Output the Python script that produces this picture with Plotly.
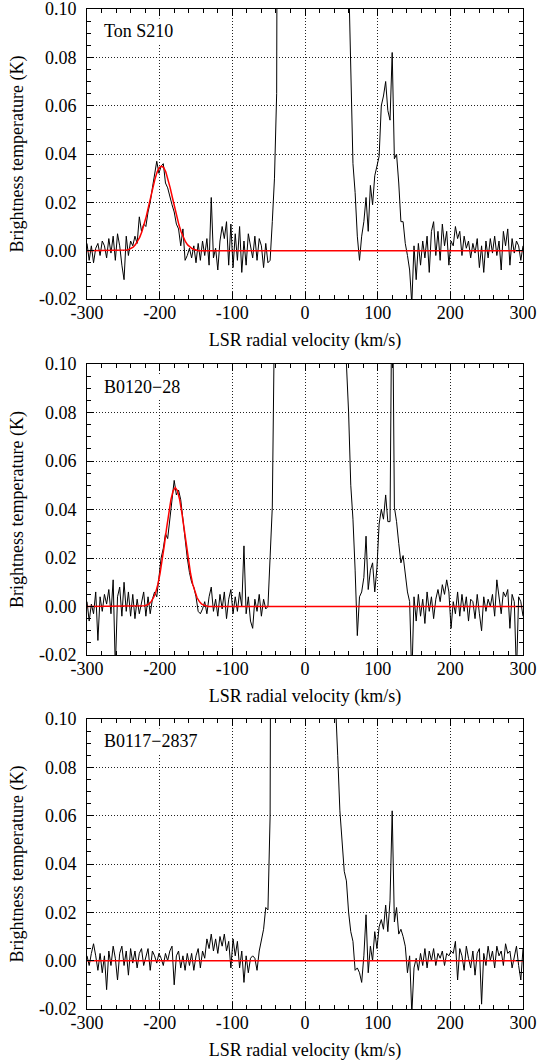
import plotly.graph_objects as go

# ---------------- data ----------------
V_START = -300.0   # km/s, first channel
V_STEP = 3.0       # km/s, channel spacing

# Ton S210 spectrum (K), channels from -300 km/s in 3 km/s steps
ton_s210 = [
    0.003, -0.004, 0.002, -0.005, 0.001, 0.003, -0.002, 0.004, 0.002, -0.003,
    0.005, -0.001, 0.006, -0.004, 0.007, 0.002, -0.006, -0.012, 0.006, -0.002,
    0.004, 0.002, 0.006, 0.003, 0.014, 0.008, 0.011, 0.010, 0.016, 0.020,
    0.026, 0.031, 0.037, 0.032, 0.035, 0.036, 0.028, 0.026, 0.022, 0.019,
    0.016, 0.011, 0.009, 0.002, 0.009, -0.004, -0.002, 0.001, -0.003, 0.002,
    -0.005, 0.003, -0.004, 0.004, -0.002, 0.005, -0.006, 0.022, -0.003, 0.001,
    -0.008, 0.004, 0.010, 0.005, 0.012, -0.006, 0.011, -0.007, 0.007, -0.004,
    0.010, -0.009, 0.004, -0.006, 0.007, 0.002, -0.003, 0.006, -0.004, 0.005,
    0.002, -0.007, 0.003, -0.005, -0.004, 0.012, 0.030, 0.065, 0.11, 0.2,
    0.4, 0.7, 1.2, 1.8, 2.5, 3.2, 3.8, 4.2, 4.5, 4.6,
    4.6, 4.4, 4.0, 3.5, 3.0, 2.4, 1.9, 1.4, 1.0, 0.7,
    0.5, 0.4, 0.33, 0.28, 0.25, 0.22, 0.2, 0.19, 0.18, 0.16,
    0.115, 0.07, 0.036, 0.024, 0.006, -0.004, 0.006, 0.012, 0.022, 0.008,
    0.027, 0.019, 0.031, 0.035, 0.039, 0.060, 0.064, 0.070, 0.058, 0.054,
    0.082, 0.038, 0.040, 0.028, 0.012, 0.012, 0.003, -0.002, -0.008, -0.022,
    0.002, -0.012, 0.003, -0.006, 0.004, -0.003, 0.006, -0.009, 0.008, 0.012,
    -0.002, 0.008, -0.004, 0.011, 0.002, 0.008, -0.006, 0.004, 0.002, 0.010,
    0.005, 0.008, -0.002, 0.006, 0.001, 0.004, -0.003, 0.003, -0.001, 0.005,
    -0.007, 0.002, -0.009, 0.004, -0.003, 0.005, -0.001, 0.006, -0.002, 0.004,
    -0.008, 0.008, 0.002, 0.009, -0.006, 0.005, -0.001, 0.004, 0.002, -0.004,
    0.002,
]

# B0120-28 spectrum (K)
b0120_28 = [
    0.002, -0.006, 0.001, -0.003, 0.006, -0.014, 0.004, -0.002, 0.005, 0.001,
    0.007, -0.003, 0.011, -0.026, 0.004, 0.008, -0.004, 0.010, -0.002, 0.006,
    -0.004, 0.005, -0.005, 0.003, -0.003, 0.001, 0.006, -0.004, 0.004, -0.003,
    0.003, 0.006, 0.004, 0.012, 0.020, 0.024, 0.030, 0.028, 0.037, 0.044,
    0.052, 0.046, 0.048, 0.044, 0.036, 0.026, 0.020, 0.014, 0.010, 0.008,
    0.004, -0.002, -0.003, -0.001, 0.002, -0.003, 0.004, 0.008, -0.002, 0.003,
    -0.004, 0.005, -0.001, 0.006, -0.005, 0.003, 0.007, -0.003, 0.004, -0.002,
    0.006, 0.000, 0.025, -0.003, 0.004, -0.006, -0.009, 0.003, -0.002, 0.005,
    -0.004, 0.003, -0.001, 0.000, 0.022, 0.041, 0.12, 0.25, 0.5, 0.9,
    1.4, 2.0, 2.8, 3.5, 4.1, 4.6, 5.0, 5.2, 5.3, 5.3,
    5.2, 5.0, 4.6, 4.1, 3.5, 2.8, 2.1, 1.5, 1.0, 0.6,
    0.4, 0.3, 0.25, 0.2, 0.17, 0.15, 0.13, 0.125, 0.12, 0.098,
    0.080, 0.050, 0.036, 0.015, -0.012, 0.004, 0.006, 0.012, 0.029, 0.007,
    0.015, 0.018, 0.006, 0.016, 0.034, 0.040, 0.036, 0.046, 0.035, 0.035,
    0.15, 0.041, 0.035, 0.026, 0.018, 0.021, 0.012, 0.006, 0.002, -0.030,
    0.004, -0.006, 0.005, -0.004, 0.003, -0.007, 0.006, -0.002, 0.004, -0.005,
    0.003, 0.007, 0.002, 0.009, 0.005, 0.011, 0.006, -0.009, 0.002, -0.003,
    0.006, -0.004, 0.005, -0.002, 0.004, -0.006, 0.003, 0.002, -0.005, 0.005,
    -0.003, -0.010, 0.004, -0.002, 0.003, 0.000, 0.005, -0.004, 0.011, 0.003,
    -0.003, 0.006, 0.004, 0.007, -0.009, 0.005, 0.002, -0.028, 0.004, 0.002,
    -0.004,
]

# B0117-2837 spectrum (K)
b0117_2837 = [
    0.002, -0.002, 0.003, 0.007, 0.002, -0.004, 0.003, -0.005, 0.002, -0.012,
    0.004, -0.002, 0.006, 0.001, -0.008, 0.003, 0.006, -0.002, 0.004, -0.006,
    0.005, -0.001, 0.004, -0.003, 0.003, 0.005, -0.002, 0.001, 0.005, -0.004,
    0.004, 0.002, -0.001, 0.003, 0.001, -0.002, 0.003, 0.000, 0.004, 0.006,
    -0.010, 0.002, 0.004, -0.003, 0.002, -0.004, 0.003, -0.002, 0.003, -0.004,
    0.002, 0.005, -0.003, 0.004, 0.001, 0.009, 0.005, 0.011, 0.004, 0.009,
    0.003, 0.010, 0.006, 0.011, 0.004, 0.008, -0.003, 0.009, 0.002, 0.008,
    -0.003, 0.004, -0.009, 0.002, -0.005, 0.001, 0.002, 0.001, -0.004, 0.004,
    0.008, 0.013, 0.022, 0.021, 0.060, 0.15, 0.3, 0.6, 1.0, 1.5,
    2.0, 2.6, 3.2, 3.7, 4.0, 4.2, 4.2, 4.0, 3.7, 3.2,
    2.7, 2.2, 1.7, 1.3, 0.9, 0.6, 0.4, 0.3, 0.22, 0.18,
    0.2, 0.17, 0.15, 0.13, 0.11, 0.085, 0.062, 0.048, 0.037, 0.033,
    0.020, 0.012, 0.008, -0.004, -0.003, -0.005, -0.009, 0.002, 0.019, -0.005,
    0.006, 0.000, 0.012, 0.005, 0.014, 0.017, 0.013, 0.023, 0.012, 0.025,
    0.062, 0.016, 0.022, 0.011, 0.013, 0.010, 0.006, -0.005, 0.002, -0.022,
    -0.003, 0.001, -0.004, 0.003, -0.002, 0.005, -0.003, 0.004, 0.000, 0.005,
    -0.002, 0.003, 0.001, 0.004, -0.002, 0.003, 0.002, 0.004, 0.003, 0.008,
    -0.008, 0.005, 0.002, -0.004, 0.006, 0.001, -0.003, 0.004, -0.006, 0.003,
    0.005, -0.018, 0.003, -0.002, 0.006, 0.000, 0.004, -0.003, 0.006, 0.002,
    0.004, -0.002, 0.007, 0.003, 0.004, -0.003, 0.001, 0.006, -0.002, -0.008,
    0.005,
]

# Gaussian fits (red)
fit1_v = [-300, -248.5, -245.5, -242.5, -239.5, -236.5, -233.5, -230.5, -227.5,
          -224.5, -221.5, -218.5, -215.5, -212.5, -209.5, -206.5, -203.5, -200.5,
          -197.5, -194.5, -191.5, -188.5, -185.5, -182.5, -179.5, -176.5, -173.5,
          -170.5, -167.5, -164.5, -161.5, -158.5, -155.5, -152.5, -149.5, -146.5, 300]
fit1_t = [0.0, 0.0, 0.0003, 0.0005, 0.0009, 0.0015, 0.0024, 0.0037, 0.0055,
          0.0078, 0.0107, 0.0141, 0.0180, 0.0220, 0.0260, 0.0296, 0.0325, 0.0344,
          0.0350, 0.0344, 0.0325, 0.0296, 0.0260, 0.0220, 0.0180, 0.0141, 0.0107,
          0.0078, 0.0055, 0.0037, 0.0024, 0.0015, 0.0009, 0.0005, 0.0003, 0.0, 0.0]

fit2_v = [-300, -223.5, -220.5, -217.5, -214.5, -211.5, -208.5, -205.5, -202.5,
          -199.5, -196.5, -193.5, -190.5, -187.5, -184.5, -181.5, -178.5, -175.5,
          -172.5, -169.5, -166.5, -163.5, -160.5, -157.5, -154.5, -151.5, -148.5,
          -145.5, -142.5, -139.5, -136.5, -133.5, 300]
fit2_t = [0.0, 0.0, 0.0003, 0.0006, 0.0011, 0.0021, 0.0036, 0.0058, 0.0091,
          0.0136, 0.0191, 0.0254, 0.0322, 0.0387, 0.0441, 0.0477, 0.0490, 0.0477,
          0.0441, 0.0387, 0.0322, 0.0254, 0.0191, 0.0136, 0.0091, 0.0058, 0.0036,
          0.0021, 0.0011, 0.0006, 0.0003, 0.0, 0.0]

fit3_v = [-300, 300]
fit3_t = [0.0, 0.0]

names = ["Ton S210", "B0120\u221228", "B0117\u22122837"]

x_ticks = [-300, -200, -100, 0, 100, 200, 300]
x_tick_text = ["-300", "-200", "-100", "0", "100", "200", "300"]
y_ticks = [-0.02, 0.0, 0.02, 0.04, 0.06, 0.08, 0.10]
y_tick_text = ["-0.02", "0.00", "0.02", "0.04", "0.06", "0.08", "0.10"]

# ---------------- figure ----------------
FONT = "Liberation Serif, Times New Roman, Times, serif"
FS = 18
W, H = 537, 1062
domains = [[0.71, 1.0], [0.354, 0.645], [0.0, 0.29]]
panels = [(ton_s210, fit1_v, fit1_t), (b0120_28, fit2_v, fit2_t), (b0117_2837, fit3_v, fit3_t)]

fig = go.Figure()
layout = {}
for i, (spec, fv, ft) in enumerate(panels):
    sfx = "" if i == 0 else str(i + 1)
    xa, ya = "x" + sfx, "y" + sfx
    vel = [V_START + V_STEP * k for k in range(len(spec))]
    fig.add_trace(go.Scatter(x=vel, y=spec, mode="lines",
                             line=dict(color="black", width=1),
                             xaxis=xa, yaxis=ya, showlegend=False))
    fig.add_trace(go.Scatter(x=fv, y=ft, mode="lines",
                             line=dict(color="#ff0000", width=1.5),
                             xaxis=xa, yaxis=ya, showlegend=False))
    common = dict(ticks="inside", ticklen=7, tickwidth=1, tickcolor="black",
                  showline=True, linecolor="black", linewidth=1, mirror="ticks",
                  showgrid=True, gridcolor="#222222", griddash="1px,2px", gridwidth=1,
                  zeroline=False, ticklabeloverflow="allow",
                  tickfont=dict(family=FONT, size=FS, color="black"))
    layout["xaxis" + sfx] = dict(
        common, domain=[0, 1], anchor=ya, range=[-300, 300],
        tickmode="array", tickvals=x_ticks, ticktext=x_tick_text,
        ticklabelstandoff=-3,
        minor=dict(ticks="inside", tickmode="linear", tick0=0, dtick=20,
                   ticklen=4, tickcolor="black", showgrid=False),
        title=dict(text="LSR radial velocity (km/s)",
                   font=dict(family=FONT, size=FS, color="black"), standoff=11),
    )
    layout["yaxis" + sfx] = dict(
        common, domain=domains[i], anchor=xa, range=[-0.02, 0.10],
        tickmode="array", tickvals=y_ticks, ticktext=y_tick_text,
        ticklabelstandoff=6,
        minor=dict(ticks="inside", tickmode="linear", tick0=0, dtick=0.005,
                   ticklen=4, tickcolor="black", showgrid=False),
        title=dict(text="Brightness temperature (K)",
                   font=dict(family=FONT, size=FS, color="black"), standoff=10),
    )
    fig.add_annotation(x=-281, y=0.0907, xref=xa, yref=ya, text=names[i],
                       showarrow=False, xanchor="left", yanchor="middle",
                       bgcolor="white", borderpad=2,
                       font=dict(family=FONT, size=FS, color="black"))

fig.update_layout(**layout)
fig.update_layout(width=W, height=H, plot_bgcolor="white", paper_bgcolor="white",
                  margin=dict(l=87, r=14, t=9, b=53, autoexpand=False),
                  font=dict(family=FONT, size=FS, color="black"))
# remove the browser's default 8 px body margin so the figure fills the window
fig.write_html("out.html", config={"displayModeBar": False},
               post_script="document.body.style.margin='0px';")
